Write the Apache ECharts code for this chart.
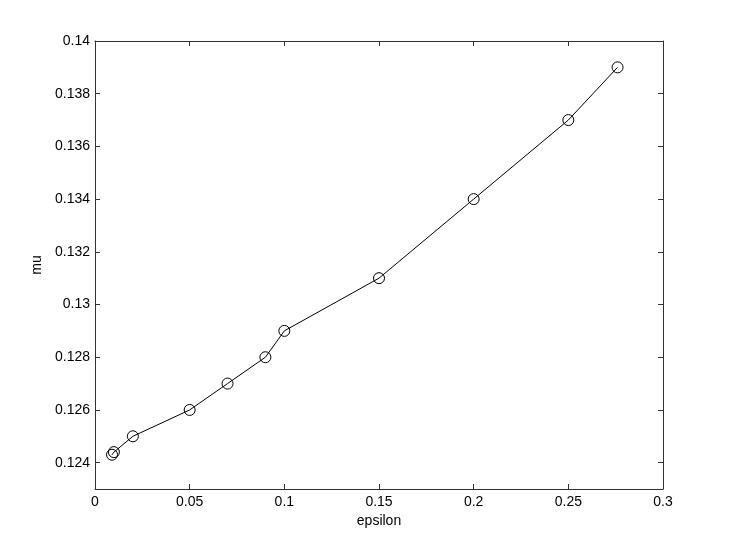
<!DOCTYPE html>
<html>
<head>
<meta charset="utf-8">
<script src="https://cdn.jsdelivr.net/npm/echarts@6/dist/echarts.min.js"></script>
<style>
  html, body { margin: 0; padding: 0; background: #fff; }
  #chart { width: 732px; height: 550px; }
</style>
</head>
<body>
<div id="chart"></div>
<script>
// values
const epsilon = [0.009, 0.01, 0.02, 0.05, 0.07, 0.09, 0.1, 0.15, 0.2, 0.25, 0.276];
const mu = [0.1243, 0.1244, 0.125, 0.126, 0.127, 0.128, 0.129, 0.131, 0.134, 0.137, 0.139];
const xTicks = [0, 0.05, 0.1, 0.15, 0.2, 0.25, 0.3];
const yTicks = [0.124, 0.126, 0.128, 0.13, 0.132, 0.134, 0.136, 0.138, 0.14];

const FONT = "Liberation Sans";
const lineColor = "#333";

const fmt = (v) => String(+v.toFixed(3));

function xAxisCfg(pos, show) {
  return {
    type: "value",
    position: pos,
    min: 0,
    max: 0.3,
    name: show ? "epsilon" : "",
    nameLocation: "middle",
    nameGap: 24,
    nameTextStyle: { fontFamily: FONT, fontSize: 14, color: "#000" },
    axisLine: { show: true, onZero: false, lineStyle: { color: lineColor, width: 1 } },
    axisTick: { show: true, inside: true, length: 5, customValues: xTicks, lineStyle: { color: lineColor } },
    axisLabel: {
      show: show,
      customValues: xTicks,
      margin: 6,
      fontFamily: FONT,
      fontSize: 14,
      color: "#000",
      formatter: fmt,
    },
    splitLine: { show: false },
  };
}

function yAxisCfg(pos, show) {
  return {
    type: "value",
    position: pos,
    min: 0.123,
    max: 0.14,
    name: show ? "mu" : "",
    nameLocation: "middle",
    nameGap: 48,
    nameRotate: 90,
    nameTextStyle: { fontFamily: FONT, fontSize: 14, color: "#000" },
    axisLine: { show: true, onZero: false, lineStyle: { color: lineColor, width: 1 } },
    axisTick: { show: true, inside: true, length: 5, customValues: yTicks, lineStyle: { color: lineColor } },
    axisLabel: {
      show: show,
      customValues: yTicks,
      margin: 5,
      fontFamily: FONT,
      fontSize: 14,
      color: "#000",
      formatter: fmt,
    },
    splitLine: { show: false },
  };
}

const chart = echarts.init(document.getElementById("chart"));
chart.setOption({
  animation: false,
  backgroundColor: "#fff",
  grid: { left: 95, right: 69, top: 41, bottom: 61 },
  xAxis: [xAxisCfg("bottom", true), xAxisCfg("top", false)],
  yAxis: [yAxisCfg("left", true), yAxisCfg("right", false)],
  series: [
    {
      type: "line",
      data: epsilon.map((e, i) => [e, mu[i]]),
      symbol: "circle",
      symbolSize: 11,
      lineStyle: { color: "#000", width: 1 },
      itemStyle: { color: "rgba(0,0,0,0)", borderColor: "#000", borderWidth: 1 },
      emphasis: { disabled: true },
    },
  ],
});
</script>
</body>
</html>
